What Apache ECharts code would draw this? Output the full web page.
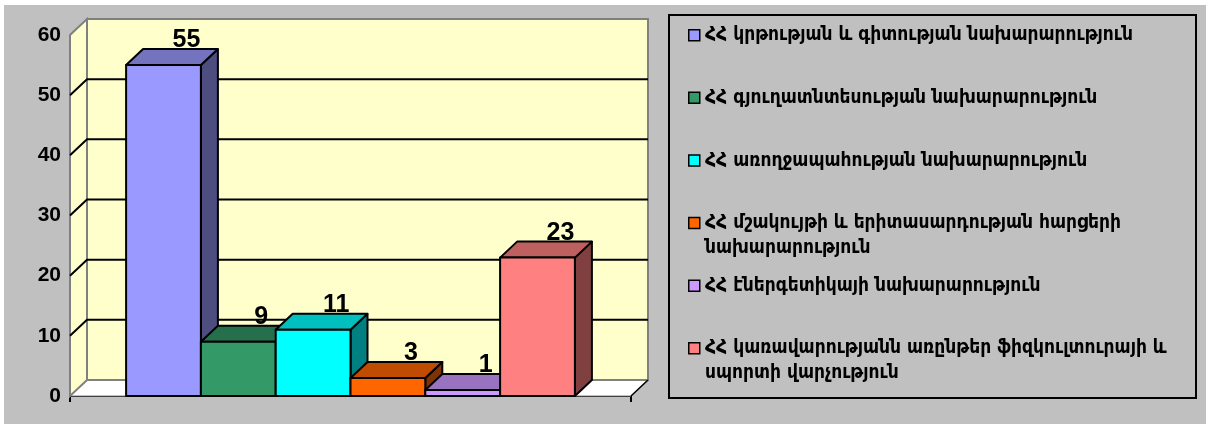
<!DOCTYPE html>
<html>
<head>
    <meta charset="utf-8">
    <title>ECharts</title>
    <script src="https://cdn.jsdelivr.net/npm/echarts@6/dist/echarts.min.js"></script>
    <style>
        html, body { margin: 0; padding: 0; background: #ffffff; }
        #main { position: absolute; left: 4px; top: 5px; width: 1202px; height: 419px; background: #c0c0c0; }
    </style>
</head>
<body>
<div id="main"></div>

<script type="text/javascript">
    // ministries (legend) and their counts
    var names = [
        'ՀՀ կրթության և գիտության նախարարություն',
        'ՀՀ գյուղատնտեսության նախարարություն',
        'ՀՀ առողջապահության նախարարություն',
        'ՀՀ մշակույթի և երիտասարդության հարցերի\nնախարարություն',
        'ՀՀ էներգետիկայի նախարարություն',
        'ՀՀ կառավարությանն առընթեր ֆիզկուլտուրայի և\nսպորտի վարչություն'
    ];
    var values = [55, 9, 11, 3, 1, 23];
    var yTicks = [0, 10, 20, 30, 40, 50, 60];

    // front / top / side colours of each 3d bar
    var frontColors = ['#9999ff', '#339966', '#00ffff', '#ff6600', '#cc99ff', '#ff8080'];
    var topColors   = ['#7373bf', '#266f4d', '#00bfbf', '#bf4c00', '#9973bf', '#bf6060'];
    var sideColors  = ['#4d4d80', '#1a4d33', '#008080', '#803300', '#664d80', '#804040'];

    var DX = 17, DY = -16; // depth of the 3d effect

    var myChart = echarts.init(document.getElementById('main'));

    function renderWalls(params, api) {
        var bl = api.coord([-1.25, 0]);
        var br = api.coord([6.25, 0]);
        var tl = api.coord([-1.25, 60]);
        var children = [];
        // floor
        children.push({
            type: 'polygon',
            shape: { points: [[bl[0], bl[1]], [br[0], br[1]], [br[0] + DX, br[1] + DY], [bl[0] + DX, bl[1] + DY]] },
            style: { fill: '#ffffff', stroke: '#808080', lineWidth: 1 }
        });
        // left wall
        children.push({
            type: 'polygon',
            shape: { points: [[bl[0], bl[1]], [tl[0], tl[1]], [tl[0] + DX, tl[1] + DY], [bl[0] + DX, bl[1] + DY]] },
            style: { fill: '#ffffcc', stroke: '#808080', lineWidth: 2 }
        });
        // back wall
        children.push({
            type: 'rect',
            shape: { x: tl[0] + DX, y: tl[1] + DY, width: br[0] - bl[0], height: bl[1] - tl[1] },
            style: { fill: '#ffffcc', stroke: '#808080', lineWidth: 2 }
        });
        // grid lines
        for (var i = 1; i < yTicks.length - 1; i++) {
            var p = api.coord([-1.25, yTicks[i]]);
            children.push({
                type: 'polyline',
                shape: { points: [[p[0], p[1]], [p[0] + DX, p[1] + DY], [br[0] + DX, p[1] + DY]] },
                style: { stroke: '#000000', lineWidth: 2, fill: null }
            });
        }
        // right floor edge
        children.push({
            type: 'line',
            shape: { x1: br[0], y1: br[1], x2: br[0] + DX, y2: br[1] + DY },
            style: { stroke: '#000000', lineWidth: 1.5 }
        });
        return { type: 'group', children: children };
    }

    function renderBar(params, api) {
        var i = api.value(0);
        var v = api.value(1);
        var p0 = api.coord([i - 0.5, 0]);
        var p1 = api.coord([i + 0.5, v]);
        var x0 = p0[0], x1 = p1[0], yb = p0[1], yt = p1[1];
        var st = { stroke: '#000000', lineWidth: 2, lineJoin: 'round' };
        return {
            type: 'group',
            children: [
                {
                    type: 'polygon',
                    shape: { points: [[x1, yb], [x1, yt], [x1 + DX, yt + DY], [x1 + DX, yb + DY]] },
                    style: Object.assign({ fill: sideColors[i] }, st)
                },
                {
                    type: 'polygon',
                    shape: { points: [[x0, yt], [x1, yt], [x1 + DX, yt + DY], [x0 + DX, yt + DY]] },
                    style: Object.assign({ fill: topColors[i] }, st)
                },
                {
                    type: 'rect',
                    shape: { x: x0, y: yt, width: x1 - x0, height: yb - yt },
                    style: Object.assign({ fill: frontColors[i] }, st)
                },
                {
                    type: 'text',
                    z2: 10,
                    style: {
                        x: (x0 + x1) / 2 + DX + 6,
                        y: yt + DY + 4,
                        text: String(v),
                        fill: '#000000',
                        font: 'bold 25px "Liberation Sans", Arial, sans-serif',
                        textAlign: 'center',
                        textVerticalAlign: 'bottom'
                    }
                }
            ]
        };
    }

    // legend drawn as graphic so that the marker sits on the first text line
    var legendItems = [];
    legendItems.push({
        type: 'rect',
        left: 664, top: 9,
        shape: { width: 527, height: 383 },
        style: { fill: 'transparent', stroke: '#000000', lineWidth: 2 }
    });
    for (var k = 0; k < names.length; k++) {
        var cy = 30 + k * 62.6;
        legendItems.push({
            type: 'rect',
            left: 684, top: cy - 6,
            shape: { width: 11, height: 11 },
            style: { fill: frontColors[k], stroke: '#000000', lineWidth: 1.5 }
        });
        legendItems.push({
            type: 'text',
            left: 701, top: cy - 12,
            style: {
                text: names[k],
                fill: '#000000',
                font: 'bold 19px "DejaVu Sans Condensed", "DejaVu Sans", sans-serif',
                lineHeight: 25
            }
        });
    }

    var barData = values.map(function (v, i) { return [i, v]; });

    var option = {
        animation: false,
        grid: { left: 66, top: 30, width: 561, height: 361 },
        xAxis: {
            type: 'value',
            min: -1.25,
            max: 6.25,
            splitLine: { show: false },
            axisLabel: { show: false },
            axisLine: { show: true, onZero: false, lineStyle: { color: '#000000', width: 2 } },
            axisTick: { show: true, customValues: [-1.25, 6.25], length: 6, lineStyle: { color: '#000000', width: 2 } }
        },
        yAxis: {
            type: 'value',
            min: 0,
            max: 60,
            interval: 10,
            splitLine: { show: false },
            axisLine: { show: true, lineStyle: { color: '#ffff00', width: 2 } },
            axisTick: { show: true, length: 6, lineStyle: { color: '#ffff00', width: 2 } },
            axisLabel: {
                color: '#000000',
                fontSize: 21,
                fontWeight: 'bold',
                fontFamily: '"Liberation Sans", Arial, sans-serif',
                margin: 9
            }
        },
        graphic: legendItems,
        series: [
            {
                type: 'custom',
                renderItem: renderWalls,
                data: [[0, 0]],
                z: 1,
                silent: true
            },
            {
                type: 'custom',
                renderItem: renderBar,
                data: barData,
                z: 3
            }
        ]
    };
    myChart.setOption(option);
</script>
</body>
</html>
